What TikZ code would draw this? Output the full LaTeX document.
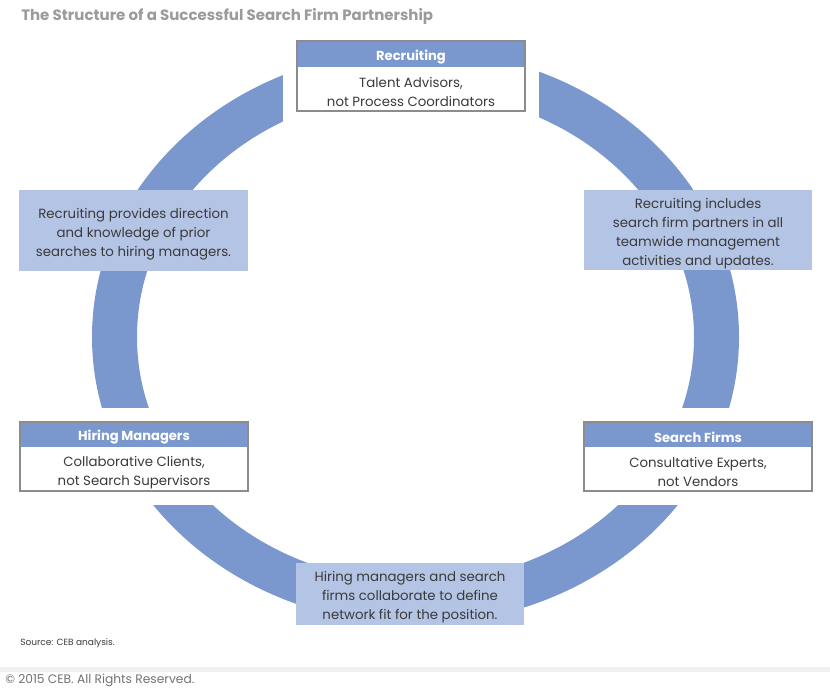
\documentclass[tikz,border=0pt]{standalone}
\usepackage{fontspec}
\setmainfont{Poppins}
\usetikzlibrary{calc}
\definecolor{ringc}{HTML}{7B98CE}
\definecolor{lightc}{HTML}{B4C4E5}
\definecolor{bordc}{HTML}{8C8C8C}
\definecolor{txtc}{HTML}{3A3A3A}
\definecolor{titlec}{HTML}{9B9B9B}
\tikzset{
  x=0.75pt, y=-0.75pt,
  boxbg/.style={rectangle, minimum width=171pt, minimum height=51.75pt, inner sep=0pt,
    fill=white, preaction={draw=white, line width=21pt}},
  headband/.style={rectangle, fill=ringc, minimum width=171pt, minimum height=18.75pt, inner sep=0pt},
  headtext/.style={inner sep=0pt, yshift=-2pt, text=white, font=\bfseries\fontsize{9.8}{11}\selectfont},
  bodytext/.style={align=center, text=txtc, inner sep=0pt, yshift=-2.25pt, font=\fontsize{10}{14.25}\selectfont},
  lightbox/.style={rectangle, fill=lightc, minimum width=171.5pt, inner sep=0pt},
  lighttext/.style={align=center, text=txtc, inner sep=0pt, yshift=-2.5pt, font=\fontsize{10}{14.25}\selectfont},
  bordline/.style={draw=bordc, line width=1.5pt},
}
\begin{document}
\begin{tikzpicture}
\useasboundingbox (0,0) rectangle (830,690);
\fill[white] (0,0) rectangle (830,690);
% title
\node[anchor=west, inner sep=0pt, text=titlec, font=\bfseries\fontsize{11.25}{13}\selectfont] (title) at (21,16.5) {The Structure of a Successful Search Firm Partnership};
% ring
\fill[ringc, even odd rule] (415.5,337) ellipse [x radius=323.5, y radius=287]
                            (415.5,337) ellipse [x radius=278.5, y radius=245];
% light boxes
\node[lightbox, minimum height=60.75pt] (lleft) at (133.5,230.5) {};
\node[lighttext] (llefttext) at (lleft.center) {Recruiting provides direction\\and knowledge of prior\\searches to hiring managers.};
\node[lightbox, minimum height=60pt] (lright) at (698,230) {};
\node[lighttext] (lrighttext) at (lright.center) {Recruiting includes\\search firm partners in all\\teamwide management\\activities and updates.};
\node[lightbox, minimum height=46.5pt] (lbottom) at (410,594) {};
\node[lighttext] (lbottomtext) at (lbottom.center) {Hiring managers and search\\firms collaborate to define\\network fit for the position.};
% header boxes
\node[boxbg] (rec) at (411,76) {};
\node[headband, anchor=north] (rechead) at (rec.north) {};
\node[headtext] (recheadtext) at (rechead.center) {Recruiting};
\node[bodytext] (recbody) at ($(rec.south)!0.5!(rechead.south)$) {Talent Advisors,\\not Process Coordinators};
\draw[bordline] (rec.south west) rectangle (rec.north east);

\node[boxbg] (hm) at (134,456.5) {};
\node[headband, anchor=north] (hmhead) at (hm.north) {};
\node[headtext] (hmheadtext) at (hmhead.center) {Hiring Managers};
\node[bodytext] (hmbody) at ($(hm.south)!0.5!(hmhead.south)$) {Collaborative Clients,\\not Search Supervisors};
\draw[bordline] (hm.south west) rectangle (hm.north east);

\node[boxbg] (sf) at (698,456.5) {};
\node[headband, anchor=north] (sfhead) at (sf.north) {};
\node[headtext] (sfheadtext) at (sfhead.center) {Search Firms};
\node[bodytext] (sfbody) at ($(sf.south)!0.5!(sfhead.south)$) {Consultative Experts,\\not Vendors};
\draw[bordline] (sf.south west) rectangle (sf.north east);
% footer
\node[anchor=west, inner sep=0pt, text=txtc, font=\fontsize{6.75}{8}\selectfont] (source) at (20,643) {Source: CEB analysis.};
\fill[black!6] (0,667) rectangle (830,672);
\node[anchor=west, inner sep=0pt, text=black!55, font=\fontsize{9.2}{11}\selectfont] (copy) at (5,680) {© 2015 CEB. All Rights Reserved.};
\end{tikzpicture}
\end{document}
